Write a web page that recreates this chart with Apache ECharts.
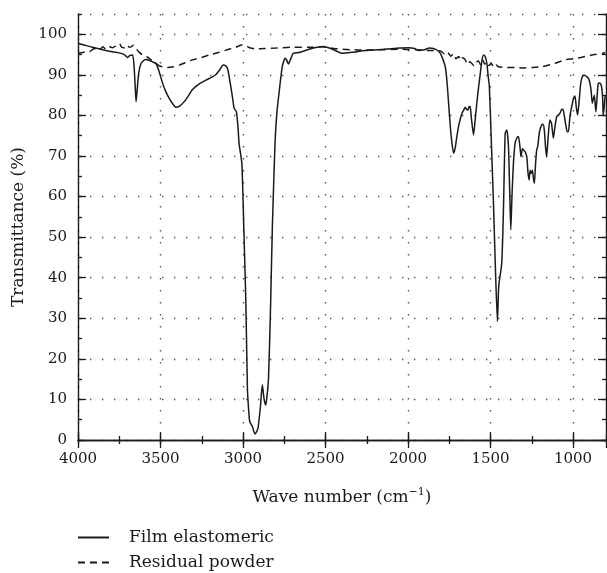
<!DOCTYPE html>
<html>
<head>
<meta charset="utf-8">
<script src="https://cdn.jsdelivr.net/npm/echarts@6/dist/echarts.min.js"></script>
<style>
html,body{margin:0;padding:0;background:#fff;}
#chart{width:607px;height:573px;}
</style>
</head>
<body>
<div id="chart"></div>
<script>
// ---- Data ----
const filmX = [4000,3950,3900,3860,3820,3779,3740,3720,3699,3685,3669,3660,3652,3648,3642,3632,3618,3600,3588,3565,3548,3527,3510,3487,3467,3447,3425,3406,3385,3356,3330,3306,3265,3225,3190,3164,3140,3120,3105,3094,3085,3074,3062,3054,3040,3030,3024,3007,2995,2983,2973,2965,2959,2943,2935,2927,2918,2909,2895,2883,2872,2862,2854,2846,2838,2832,2822,2806,2795,2782,2762,2745,2735,2725,2710,2695,2661,2600,2550,2510,2450,2399,2330,2258,2150,2050,1996,1960,1935,1900,1870,1845,1820,1804,1790,1774,1763,1754,1745,1738,1724,1714,1704,1690,1673,1660,1653,1645,1637,1630,1623,1615,1603,1595,1583,1572,1562,1552,1542,1532,1522,1515,1507,1496,1482,1470,1458,1450,1432,1422,1411,1401,1391,1384,1377,1370,1361,1351,1340,1331,1322,1315,1307,1300,1290,1280,1273,1266,1260,1254,1246,1240,1234,1227,1220,1214,1203,1190,1182,1174,1166,1160,1150,1140,1130,1119,1110,1099,1080,1068,1059,1045,1035,1028,1018,1008,998,988,980,972,962,952,940,932,915,905,897,890,883,877,871,866,861,855,847,837,827,820,817,811,805];
const filmY = [97.8,97.2,96.7,96.3,95.9,95.6,95.3,95.0,94.3,94.8,94.9,92.0,86.0,83.4,86.0,90.5,92.8,93.6,93.8,93.5,93.2,92.8,91.0,87.9,85.8,84.2,82.8,82.0,82.3,83.4,84.9,86.4,87.8,88.7,89.4,90.1,91.3,92.4,92.2,91.6,89.8,87.1,84.0,81.8,80.9,77.0,73.1,68.2,52.0,34.5,12.3,7.0,4.5,3.3,2.2,1.5,2.0,2.9,8.0,13.6,10.0,8.6,11.0,14.8,25.0,34.5,52.6,73.1,80.5,85.4,92.0,94.1,93.6,92.7,94.0,95.3,95.5,96.3,96.8,97.0,96.2,95.3,95.6,96.0,96.3,96.6,96.7,96.5,96.0,96.2,96.6,96.5,96.0,95.3,94.0,92.0,88.0,83.0,78.0,74.8,70.7,72.0,74.8,78.0,80.5,81.5,82.0,81.5,81.3,82.2,82.1,79.0,75.2,78.0,83.0,87.0,90.3,93.5,94.9,94.5,92.8,90.0,87.1,74.8,58.3,42.0,29.2,38.0,43.5,55.9,75.6,76.4,72.3,62.0,51.8,60.0,68.2,73.1,74.5,74.8,72.5,69.8,71.8,71.5,71.0,69.8,66.0,64.1,66.5,65.7,66.5,64.5,63.3,68.0,71.5,72.3,76.0,77.6,77.8,76.4,72.0,69.8,75.0,78.9,78.0,74.4,77.0,79.7,80.5,81.5,81.3,78.0,76.0,76.0,80.0,82.1,84.0,84.8,82.0,80.1,84.0,88.3,89.8,89.9,89.5,89.0,87.9,86.0,83.0,84.0,85.0,83.0,80.9,84.0,87.9,88.0,87.1,84.0,80.1,82.0,85.0];

const powderX = [4000,3970,3950,3930,3910,3890,3870,3850,3830,3810,3790,3770,3749,3735,3719,3700,3690,3678,3665,3648,3630,3608,3580,3557,3530,3507,3480,3457,3420,3386,3350,3306,3250,3205,3150,3104,3050,3003,2983,2960,2923,2870,2802,2700,2600,2520,2450,2350,2258,2150,2059,1950,1880,1835,1800,1780,1770,1754,1740,1725,1710,1693,1680,1670,1653,1640,1625,1613,1600,1590,1573,1560,1548,1535,1522,1510,1495,1480,1465,1452,1400,1351,1300,1250,1190,1120,1049,990,928,870,817,805];
const powderY = [95.3,95.5,95.9,95.7,96.3,96.5,96.1,96.9,96.3,96.9,96.7,97.2,97.7,96.8,96.7,97.4,96.8,96.9,97.3,96.5,95.6,94.9,94.4,93.7,92.9,92.2,91.9,91.8,92.0,92.4,93.0,93.7,94.3,94.9,95.5,96.1,96.7,97.4,97.2,96.7,96.4,96.5,96.6,96.8,96.8,96.9,96.5,96.2,96.1,96.2,96.3,96.2,96.0,96.0,95.8,95.2,95.8,95.3,94.6,95.2,94.0,94.5,93.5,94.2,93.7,92.5,93.2,92.8,92.2,93.0,93.4,92.5,93.8,92.6,93.2,92.3,92.8,91.8,92.4,92.0,91.8,91.8,91.7,91.8,92.0,92.7,93.7,94.0,94.5,95.0,95.3,95.5];

const seriesNames = ['Film elastomeric', 'Residual powder'];
const xName = 'Wave number (cm';
const xNameSup = '\u22121';
const yName = 'Transmittance (%)';

// ---- Styling ----
const FONT = 'DejaVu Serif';
const INK = '#1a1a1a';
const X_MIN = 800, X_MAX = 4000, Y_MIN = 0, Y_MAX = 105;
const axisLine = {show: true, lineStyle: {color: INK, width: 1.4}};
const dotted = {show: true, lineStyle: {color: '#555', width: 1.4, type: [1.4, 10.6]}};

function tick(len) { return {show: true, inside: true, length: len, lineStyle: {color: INK, width: 1.3}}; }

const chart = echarts.init(document.getElementById('chart'), null, {renderer: 'canvas'});
chart.setOption({
  animation: false,
  backgroundColor: '#fff',
  grid: {left: 78, right: 1, top: 14, bottom: 133, containLabel: false},
  legend: {
    orient: 'vertical', left: 77, top: 529, padding: 0, height: 120, width: 300,
    itemWidth: 31, itemHeight: 14, itemGap: 8,
    data: seriesNames,
    itemStyle: {color: 'rgba(0,0,0,0)', borderWidth: 0, opacity: 0},
    textStyle: {fontFamily: FONT, fontSize: 17, color: INK, padding: [0, 0, 0, 15]}
  },
  xAxis: [
    {
      type: 'value', min: X_MIN, max: X_MAX, inverse: true, position: 'bottom',
      axisLine: axisLine, axisTick: tick(8),
      axisLabel: {showMinLabel: false, fontFamily: FONT, fontSize: 15, color: INK, margin: 12,
        formatter: v => String(v)},
      splitLine: dotted,
      name: '{t|' + xName + '}{s|' + xNameSup + '}{t|)}',
      nameLocation: 'middle', nameGap: 47,
      nameTextStyle: {
        rich: {
          t: {fontFamily: FONT, fontSize: 17, color: INK, lineHeight: 22},
          s: {fontFamily: FONT, fontSize: 11, color: INK, verticalAlign: 'top', lineHeight: 14}
        }
      }
    },
    {
      type: 'value', min: -X_MAX, max: -X_MIN, interval: 250, position: 'bottom',
      axisLine: {show: false}, axisTick: tick(4), axisLabel: {show: false}, splitLine: {show: false}
    },
    {
      type: 'value', min: X_MIN, max: X_MAX, inverse: true, position: 'top',
      axisLine: axisLine, axisTick: tick(8), axisLabel: {show: false}, splitLine: {show: false}
    },
    {
      type: 'value', min: -X_MAX, max: -X_MIN, interval: 250, position: 'top',
      axisLine: {show: false}, axisTick: tick(4), axisLabel: {show: false}, splitLine: {show: false}
    }
  ],
  yAxis: [
    {
      type: 'value', min: Y_MIN, max: Y_MAX, interval: 10, position: 'left',
      axisLine: axisLine, axisTick: tick(8),
      axisLabel: {showMaxLabel: false, fontFamily: FONT, fontSize: 15, color: INK, margin: 11},
      splitLine: dotted,
      name: yName, nameLocation: 'middle', nameGap: 42, nameRotate: 90,
      nameTextStyle: {fontFamily: FONT, fontSize: 17, color: INK}
    },
    {
      type: 'value', min: Y_MIN, max: Y_MAX, interval: 5, position: 'left',
      axisLine: {show: false}, axisTick: tick(4), axisLabel: {show: false}, splitLine: {show: false}
    },
    {
      type: 'value', min: Y_MIN, max: Y_MAX, interval: 10, position: 'right',
      axisLine: axisLine, axisTick: tick(8), axisLabel: {show: false}, splitLine: {show: false}
    },
    {
      type: 'value', min: Y_MIN, max: Y_MAX, interval: 5, position: 'right',
      axisLine: {show: false}, axisTick: tick(4), axisLabel: {show: false}, splitLine: {show: false}
    }
  ],
  series: [
    {
      name: seriesNames[0], type: 'line', xAxisIndex: 0, yAxisIndex: 0,
      data: filmX.map((x, i) => [x, filmY[i]]),
      symbol: 'none', smooth: 0.2,
      lineStyle: {color: INK, width: 1.5, type: 'solid'},
      itemStyle: {color: INK}
    },
    {
      name: seriesNames[1], type: 'line', xAxisIndex: 0, yAxisIndex: 0,
      data: powderX.map((x, i) => [x, powderY[i]]),
      symbol: 'none', smooth: 0.2,
      lineStyle: {color: INK, width: 1.5, type: [7, 5]},
      itemStyle: {color: INK}
    }
  ]
});
</script>
</body>
</html>
